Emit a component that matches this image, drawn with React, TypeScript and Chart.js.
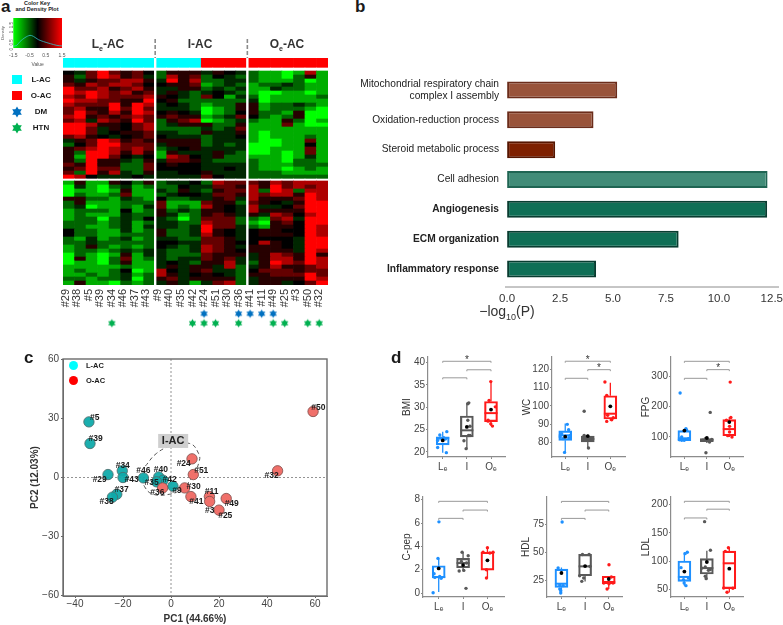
import React, { useEffect, useRef } from "react";
import { Chart, registerables } from "chart.js";

Chart.register(...registerables);
Chart.defaults.font.family = "'Liberation Sans', Arial, sans-serif";

// ---------- panel a: heat map ----------
const samples = ["#29","#38","#5","#39","#34","#46","#37","#43","#9","#40","#35","#42","#24","#51","#30","#36","#41","#11","#49","#25","#3","#50","#32"];
const sampleClass = ["L","L","L","L","L","L","L","L","L","L","L","L","O","O","O","O","O","O","O","O","O","O","O"];
const groupEnds = [7, 15];
const dmSamples = ["#24","#36","#41","#11","#49"];
const htnSamples = ["#34","#42","#24","#51","#36","#49","#25","#50","#32"];
const heatTop = [
[0,-1,2,4,2,1,2,0,-2,1,1,1,-1,1,0,-1,-2,-3,-3,-4,-3,3,-3],
[1,-2,2,4,3,1,2,-1,-2,3,1,2,-2,0,-1,-2,-2,-3,-3,-4,-2,1,-3],
[1,-1,1,2,2,3,3,1,-1,4,1,3,-2,-2,-1,-1,-2,-3,-3,-3,-2,-4,-3],
[2,1,3,2,3,3,2,0,0,1,1,2,-3,-2,-1,-2,-3,-2,-2,-1,-2,-3,-3],
[4,2,2,3,1,2,3,1,-1,-1,1,1,-2,-1,-2,-1,-3,-3,-1,-2,-2,-3,-3],
[4,3,4,3,2,3,1,2,-1,1,-1,-2,-1,0,-1,-2,-3,-4,-4,-3,-3,-4,-3],
[3,2,4,3,2,2,2,3,1,0,-1,-2,2,0,-3,-1,-2,-4,-3,-3,-3,-3,-2],
[4,3,3,2,2,1,1,4,0,1,-2,-2,-2,-2,-2,-2,-1,-4,-3,-3,-3,-3,-3],
[3,2,2,2,4,1,4,3,-1,0,-1,-2,-3,-2,-2,1,1,-3,-2,-2,-1,-2,-3],
[2,3,1,1,4,2,4,2,-1,-1,-1,-2,-4,-3,-2,1,1,-3,-2,-2,-2,-3,-4],
[2,4,2,1,3,1,4,3,0,1,0,-1,-4,-3,-2,0,1,-2,-2,-3,1,-4,-4],
[3,4,1,2,1,2,3,2,1,2,1,1,-3,-2,-1,2,0,-2,-3,-2,1,-4,-4],
[2,3,-1,3,2,1,4,2,-2,1,2,3,-4,-3,-2,-1,-2,-3,-3,1,-2,-4,-3],
[4,4,3,1,1,0,2,3,-2,-1,1,1,1,-2,-2,1,-3,-3,-3,2,-3,-4,-4],
[4,4,2,-1,1,0,2,3,-2,-2,-2,-2,-1,-2,-1,2,-3,-3,-3,-3,-3,-3,-3],
[4,4,2,-1,0,1,1,2,-1,-1,-2,-2,1,-1,-1,1,-3,-4,-3,-3,-3,-3,-3],
[2,3,1,0,-1,0,1,2,0,-1,-1,-1,-2,-1,-1,0,-3,-4,-3,-3,-3,-2,-3],
[-1,1,2,4,3,1,2,1,1,1,1,1,-2,-1,-1,-1,-3,-4,-4,-3,-3,2,-3],
[-2,0,2,4,4,2,2,2,-1,1,1,1,-2,-1,-2,-1,-4,-4,-4,-3,-3,0,-3],
[1,2,3,4,3,2,3,2,-2,-1,0,1,-1,-1,-1,-1,-4,-4,-3,-3,-3,2,-3],
[1,-2,4,4,3,1,3,1,-3,1,-1,-1,-1,1,-1,-2,-4,-4,-3,-4,-3,2,-3],
[1,-3,4,4,2,0,-1,0,-3,3,2,0,-1,1,-2,-2,-3,-3,-3,-4,-3,-1,-3],
[1,-2,4,1,1,-1,-2,1,-1,2,2,1,-1,-2,-2,-2,-2,-3,-3,-4,-2,-2,-3],
[2,1,4,1,1,-2,-2,2,0,1,0,0,-1,-1,-1,-1,-2,-3,-3,-3,-2,-2,-2],
[1,2,4,2,2,-2,-2,2,0,0,0,0,-1,-1,0,-1,-2,-3,-3,-4,-3,-2,-3],
[2,-2,4,1,3,-1,-2,1,-1,-1,0,0,1,-1,-1,-1,-2,-2,-2,-3,-3,-3,-3],
[4,3,0,-1,-1,-1,0,-1,-1,-1,-1,-1,2,0,-1,-1,-2,-2,-2,-2,-2,-2,-2],
];
const heatBottom = [
[-3,1,-3,-3,1,0,-2,1,-2,-1,-1,0,-2,3,2,2,2,1,3,2,3,3,3],
[-4,-1,-3,-4,-2,-1,-3,-2,-2,-2,0,-1,-1,2,2,1,3,1,4,2,3,2,3],
[-4,-3,-3,-4,-3,1,-3,-3,-1,-2,1,-1,-2,1,2,2,3,-2,4,3,-2,3,3],
[-4,-2,-3,-3,-2,2,-3,-3,-2,-1,0,0,-1,2,2,1,3,2,3,3,1,4,3],
[1,1,-2,-2,-3,-1,-2,-3,0,-2,-2,-1,-1,1,2,-1,3,1,1,1,2,4,3],
[-2,1,-3,-3,-3,-2,-2,-2,2,-3,-3,-3,2,1,1,-2,2,1,0,-1,1,4,4],
[-2,-1,-4,-3,-3,-2,-3,-1,2,-3,-2,-3,3,1,0,-1,3,-1,-1,0,2,4,4],
[-3,-2,-2,-2,-3,0,-3,-2,1,-2,-1,-2,1,1,0,-1,3,1,1,1,1,4,4],
[-3,-2,-3,-3,-3,-1,-2,-2,1,-1,-3,-2,1,2,1,-1,1,-1,3,2,0,3,4],
[-3,-2,-2,-4,-2,-1,-2,0,-1,-2,-4,-2,2,2,2,-2,-2,-3,2,3,-1,4,4],
[-2,-2,-2,-3,-2,-1,-3,-2,-1,-1,-2,-2,3,2,2,-2,-3,-4,1,2,0,4,4],
[-2,-2,-3,-3,-2,-1,-3,-1,-1,-1,-2,-1,4,2,2,-1,-2,-3,1,1,0,4,3],
[0,-2,-2,-3,-3,-1,-3,-2,1,-2,-2,-1,4,1,0,-1,0,1,1,0,0,4,3],
[0,-2,-2,-3,-3,-2,-2,-2,1,-2,-2,-1,3,1,0,-1,0,1,1,1,0,4,3],
[-2,-3,-1,-3,-2,-1,-3,-2,-1,-1,-2,-2,2,2,1,-1,0,0,0,0,-1,4,4],
[-2,-2,-1,-2,-2,-2,-2,-2,0,0,-1,-1,2,2,1,0,0,3,1,0,-1,4,4],
[-3,-2,1,-2,-3,-2,-3,-2,0,-1,-2,-1,3,2,1,-1,1,1,1,0,-1,4,4],
[-3,-2,-2,-3,-2,-1,-2,-1,-1,-2,-2,-1,3,2,1,0,1,1,1,1,-1,4,3],
[-4,-2,-3,-4,-3,1,-3,-1,-1,-2,-2,-2,2,1,1,1,-1,1,3,2,1,4,1],
[-4,1,-3,-4,-2,2,-3,-2,-1,-2,-1,-1,2,1,2,-1,-1,1,3,3,1,4,3],
[-4,-3,-3,-4,-2,1,-3,-3,-1,0,-1,-2,1,1,3,-1,-2,1,4,3,2,4,3],
[-3,-3,-3,-3,-3,-2,-3,-3,-1,1,-1,1,1,-1,3,-2,-1,1,3,1,1,2,3],
[-3,-2,-3,-3,-2,0,-4,-3,3,0,-1,1,2,-1,-1,-2,0,2,2,2,1,2,2],
[-3,-3,-2,-3,-2,-1,-3,-2,3,1,-1,0,1,0,-1,-2,1,1,2,2,2,4,2],
[-2,-2,-3,-2,-2,-1,-4,-2,1,2,-1,1,1,1,1,-2,-1,1,1,1,1,4,3],
[-3,1,-3,-3,-4,-2,-3,-2,-1,1,-1,-3,-1,2,3,-2,-1,1,1,-1,0,2,4],
];
const densityX = [-1.5,-1.29,-1.09,-0.78,-0.47,-0.26,0.05,0.36,0.78,1.19,1.5];
const densityY = [0.1,0.15,0.37,0.6,0.73,0.67,0.48,0.37,0.25,0.15,0.12];
const keyTicks = [-1.5,-1,-0.5,0,0.5,1,1.5];
const keyLabelled = [-1.5,-0.5,0.5,1.5];
const keyYTicks = [0,0.5,1,1.5];

// ---------- panel b: enrichment ----------
const termLabels: (string | string[])[] = [["Mitochondrial respiratory chain","complex I assembly"],"Oxidation-reduction process","Steroid metabolic process","Cell adhesion","Angiogenesis","ECM organization","Inflammatory response"];
const termValues = [5.2,4.08,2.27,12.3,12.28,8.1,4.2];
const termFill = ["#99533a","#99533a","#7e2000","#418c78","#0f6f56","#0f6f56","#0f6f56"];
const termEdge = ["#6b2c1a","#6b2c1a","#551500","#1f6553","#083c30","#083c30","#083c30"];
const termBold = [false,false,false,false,true,true,true];
const enrichTicks = [0,2.5,5,7.5,10,12.5];

// ---------- panel c: PCA ----------
const lacNames = ["#5","#39","#29","#34","#43","#46","#40","#37","#38","#42","#9","#35"];
const lacX = [-34.2,-33.75,-26.25,-20.3,-20,-11.5,-5.1,-22.6,-24.4,-3.3,0.8,-6];
const lacY = [28.3,17.3,1.5,3.4,0,-0.2,0.3,-8.5,-10,-1.4,-4.4,-2.2];
const lacLabelX = [-31.8,-31.4,-29.7,-20.1,-16.4,-11.5,-4.2,-20.6,-26.8,-0.6,2.5,-8.1];
const lacLabelY = [30.5,19.7,-1,6.1,-1.2,3.7,4.1,-6.1,-12.4,-1,-6.9,-2.7];
const oacNames = ["#24","#51","#30","#36","#41","#11","#49","#25","#3","#50","#32"];
const oacX = [8.75,9.3,5.7,-3.5,8.3,16,23,20,16.1,59.2,44.4];
const oacY = [9.5,1.5,-5.3,-5.3,-9.7,-9.7,-10.7,-16.6,-12.2,33.6,3.4];
const oacLabelX = [5.3,12.6,9.4,-5.7,10.6,16.9,25.3,22.6,16.1,61.4,41.9];
const oacLabelY = [6.9,3.7,-4.7,-7.6,-12.2,-7.1,-13.4,-19.3,-17.1,35.4,0.8];
const ringX = [-10.7,-6.1,0,7.8,11.5,11.7,8.5,3.6,-0.5,-7.5,-11,-11.7];
const ringY = [5.8,12.2,16,17.3,12.2,8,-0.5,-6.4,-8.5,-8.5,-4.7,-0.5];
const pcaXTicks = [-40,-20,0,20,40,60];
const pcaYTicks = [-60,-30,0,30,60];

// ---------- panel d: box plots ----------
const groupNames = ["Lₑ","I","Oₑ"];
const groupColors = ["#1e90ff","#595959","#ff1a1a"];

const bmiLow = [19.85,20.75,25.8]; const bmiQ1 = [21.6,23.4,26.8]; const bmiMed = [23.1,24.85,28.7]; const bmiQ3 = [23.4,28.05,31.3]; const bmiHigh = [24.55,31,35.75]; const bmiMean = [22.6,25.6,29.5];
const bmiPoints = [[[1.17,24.55],[0.88,23.8],[0.79,21],[1.15,19.85],[1.04,23.2],[0.9,23.1],[1.11,22.9],[0.79,22.6]],[[2.08,31],[2.04,30.8],[2.04,27.1],[1.88,22.5],[1.97,20.75],[2.13,25.75],[2.13,23.7],[2.07,23.7]],[[2.99,35.75],[2.92,31.55],[3.18,30.1],[2.88,27.1],[2.99,26.3],[3.06,25.8],[2.88,26.9]]];
const bmiTicks = [20,25,30,35,40];
const bmiBrackets = [[1,3,40.3,1],[2,3,38.4,0],[1,2,36.6,0]];

const wcLow = [74.7,77,92]; const wcQ1 = [81.3,80.4,92.9]; const wcMed = [84,82,95.8]; const wcQ3 = [86.4,83.6,105.6]; const wcHigh = [90.4,84.5,112.7]; const wcMean = [83.3,83.6,99.8];
const wcPoints = [[[1.09,90],[1.15,87.1],[0.97,74.7],[1.22,84],[0.78,83.1],[0.9,82.2],[1.16,82.7],[0.84,84.9]],[[1.84,97.1],[2.03,77.1],[1.84,84],[1.93,83.1],[2.1,81.3],[2.07,81.6],[1.88,81.3]],[[2.76,113.1],[2.84,105.8],[2.84,91.6],[3.06,92.5],[3.13,93.6],[2.88,94.9]]];
const wcTicks = [80,90,100,110,120];
const wcBrackets = [[1,3,124.4,1],[2,3,119.8,1],[1,2,115.1,0]];

const fpgLow = [86,80,100]; const fpgQ1 = [88,84.6,104]; const fpgMed = [95.6,89,126]; const fpgQ3 = [121,94.5,157]; const fpgHigh = [127,98,166]; const fpgMean = [121,96.7,149];
const fpgPoints = [[[0.81,245],[0.88,89],[0.99,89],[1.18,94.5],[1.1,122],[1.07,127],[0.88,100],[0.78,91]],[[2.15,181],[1.96,48],[1.81,89],[1.93,94.5],[2.07,89],[2.22,92],[2.12,83.5]],[[3.04,281],[3.01,135],[3.01,116.5],[3.07,164],[2.87,155],[2.93,104.4],[3.12,100]]];
const fpgTicks = [100,200,300];
const fpgBrackets = [[1,3,349.5,0],[2,3,322,1],[1,2,293.4,0]];

const cpepLow = [0.09,1.94,1.29]; const cpepQ1 = [1.29,2.17,1.97]; const cpepMed = [1.37,2.57,3.43]; const cpepQ3 = [2.34,2.97,3.51]; const cpepHigh = [2.94,3.49,3.86]; const cpepMean = [2.11,2.4,2.8];
const cpepPoints = [[[1.01,6.1],[0.97,2.97],[0.77,0.03],[0.81,1.66],[1.1,1.26],[0.84,1.34],[1.04,1.43]],[[2.12,0.4],[1.96,3.49],[2.21,3.2],[1.84,1.89],[2.03,1.94],[1.93,2.71],[2.14,2.57]],[[3,3.89],[2.96,1.29],[2.96,2],[2.82,3.49],[3.23,3.49],[3.1,3.43]]];
const cpepTicks = [0,2,4,6,8];
const cpepBrackets = [[1,3,7.86,0],[2,3,7.11,0],[1,2,6.4,0]];

const hdlLow = [13.8,24,17.3]; const hdlQ1 = [18.8,29.1,22]; const hdlMed = [22,37.4,23.5]; const hdlQ3 = [35,48,28.6]; const hdlHigh = [36.5,48,28.6]; const hdlMean = [31.5,37.7,26.2];
const hdlPoints = [[[1.03,76.8],[0.86,36],[0.93,17.3],[0.97,13.8],[0.97,15.8],[0.93,20.9],[1.07,20.3]],[[1.89,48],[2.17,48],[1.86,24.1],[1.94,27.1],[2.2,37.4],[1.77,29.1]],[[3.01,38.9],[2.93,17.3],[3.01,22],[3.18,22.6],[2.79,22.6],[3.11,28]]];
const hdlTicks = [25,50,75];
const hdlBrackets = [[1,3,95.1,0],[2,3,87.4,0],[1,2,80,0]];

const ldlLow = [57,69.4,45]; const ldlQ1 = [64.7,77.6,51.8]; const ldlMed = [72.4,88,96.5]; const ldlQ3 = [100.6,104.7,118]; const ldlHigh = [115.9,118.8,124]; const ldlMean = [81.8,98.8,87];
const ldlPoints = [[[1.13,115.9],[1.03,113.5],[0.85,88.8],[1.07,57],[0.99,61.8],[0.96,67.6],[1.18,70.6]],[[1.9,170],[2.16,119.4],[1.97,69.4],[2.07,84],[1.93,90],[1.78,88],[1.93,73.5],[2.15,85.3]],[[2.96,124],[2.82,117.6],[2.9,45.3],[3.16,52.4],[2.75,53]]];
const ldlTicks = [50,100,150,200];
const ldlBrackets = [[1,3,205.9,0],[2,3,192,0],[1,2,176.5,0]];

// ---------- helpers ----------
type Rect = { L: number; R: number; T: number; B: number; ml: number; mr: number; mt: number; mb: number };
const frame = (r: Rect) => ({ left: r.L - r.ml, top: r.T - r.mt, width: r.R - r.L + r.ml + r.mr, height: r.B - r.T + r.mt + r.mb });

const fitX = (h: number, ticks?: number[]) => ({
  afterFit: (s: any) => { s.height = h; s.paddingLeft = 0; s.paddingRight = 0; s.paddingTop = 0; s.paddingBottom = 0; },
  ...(ticks ? { afterBuildTicks: (s: any) => { s.ticks = ticks.map((value) => ({ value })); } } : {}),
});
const fitY = (w: number, ticks?: number[]) => ({
  afterFit: (s: any) => { s.width = w; s.paddingLeft = 0; s.paddingRight = 0; s.paddingTop = 0; s.paddingBottom = 0; },
  ...(ticks ? { afterBuildTicks: (s: any) => { s.ticks = ticks.map((value) => ({ value })); } } : {}),
});
const baseOptions = (r: Rect, left = 0) => ({
  responsive: false,
  animation: false as const,
  events: [] as any[],
  layout: { autoPadding: false, padding: { left, top: r.mt, right: r.mr, bottom: 0 } },
  plugins: { legend: { display: false }, tooltip: { enabled: false } },
});
const heatColor = (v: number) => {
  const c = Math.round(Math.pow(Math.abs(v) / 4, 1.35) * 255);
  return v < 0 ? `rgb(0,${c},0)` : `rgb(${c},0,0)`;
};
const starImage = (color: string, radius: number) => {
  const cv = document.createElement("canvas");
  const size = Math.ceil(radius * 2 + 2);
  cv.width = size; cv.height = size;
  const g = cv.getContext("2d")!;
  g.fillStyle = color;
  const c = size / 2;
  [0, Math.PI].forEach((off) => {
    g.beginPath();
    for (let i = 0; i < 3; i++) {
      const a = off + -Math.PI / 2 + (i * 2 * Math.PI) / 3;
      const x = c + radius * Math.cos(a), y = c + radius * Math.sin(a);
      i ? g.lineTo(x, y) : g.moveTo(x, y);
    }
    g.closePath(); g.fill();
  });
  return cv;
};
const minus = (v: number) => (v < 0 ? "\u2212" + Math.abs(v) : String(v));

// ---------- chart configs ----------
const keyRect: Rect = { L: 13.3, R: 61.7, T: 17.7, B: 47.7, ml: 13.3, mr: 6, mt: 1, mb: 20 };
const heatRect: Rect = { L: 63, R: 328, T: 58, B: 285, ml: 8, mr: 2, mt: 22, mb: 30 };
const starRect: Rect = { L: 60, R: 325, T: 309.3, B: 328, ml: 0, mr: 2, mt: 0, mb: 0 };
const enrichRect: Rect = { L: 505, R: 779, T: 74.65, B: 283.35, ml: 170, mr: 4, mt: 2, mb: 26 };
const pcaRect: Rect = { L: 63.3, R: 327.3, T: 359, B: 596, ml: 34, mr: 4, mt: 8, mb: 29 };

function keyConfig(): any {
  return {
    type: "line",
    data: { datasets: [{ data: densityX.map((x, i) => ({ x, y: densityY[i] })), borderColor: "#35c0c8", borderWidth: 0.8, pointRadius: 0, tension: 0.3 }] },
    options: {
      ...baseOptions(keyRect),
      scales: {
        x: { type: "linear", min: -1.5, max: 1.5, ...fitX(keyRect.mb, keyTicks), grid: { display: false, tickLength: 2, tickColor: "#666" }, border: { display: false },
          ticks: { font: { size: 5 }, color: "#555", padding: 3, autoSkip: false, maxRotation: 0, callback: (v: number) => (keyLabelled.includes(v) ? String(v) : "") },
          title: { display: true, text: "Value", font: { size: 5 }, color: "#555", padding: 0 } },
        y: { type: "linear", min: 0, max: 1.73, ...fitY(keyRect.ml, keyYTicks), grid: { display: false, tickLength: 2, tickColor: "#666" }, border: { display: false },
          ticks: { font: { size: 4.5 }, color: "#555", padding: 0, minRotation: 90, maxRotation: 90, callback: (v: number) => String(v) },
          title: { display: true, text: "Density", font: { size: 4 }, color: "#555", padding: 0 } },
      },
    },
    plugins: [{
      id: "keyGradient",
      beforeDatasetsDraw(ch: any) {
        const { ctx, chartArea: a } = ch;
        const g = ctx.createLinearGradient(a.left, 0, a.right, 0);
        g.addColorStop(0, "#00ff00"); g.addColorStop(0.5, "#000000"); g.addColorStop(1, "#ff0000");
        ctx.save(); ctx.fillStyle = g; ctx.fillRect(a.left, a.top, a.right - a.left, a.bottom - a.top); ctx.restore();
      },
    }],
  };
}

function heatConfig(): any {
  const rowH = 4;
  const blocks = (rows: number[][]) => rows.map((row) => ({ data: row.map(() => rowH), backgroundColor: row.map(heatColor) }));
  const datasets = [
    ...blocks([...heatBottom].reverse()),
    { data: samples.map(() => 2), backgroundColor: "#ffffff" },
    ...blocks([...heatTop].reverse()),
    { data: samples.map(() => 3), backgroundColor: "#ffffff" },
    { data: samples.map(() => 10), backgroundColor: sampleClass.map((c) => (c === "L" ? "#00ffff" : "#ff0000")) },
  ].map((d) => ({ ...d, borderWidth: 0, categoryPercentage: 1, barPercentage: 1 }));
  return {
    type: "bar",
    data: { labels: samples, datasets },
    options: {
      ...baseOptions(heatRect, heatRect.ml),
      scales: {
        x: { stacked: true, ...fitX(heatRect.mb), grid: { display: false, drawTicks: false }, border: { display: false },
          ticks: { autoSkip: false, minRotation: 90, maxRotation: 90, padding: 4, labelOffset: -3, font: { size: 11 }, color: "#333" } },
        y: { stacked: true, display: false, min: 0, max: 227 },
      },
    },
    plugins: [{
      id: "groupSeparators",
      afterDatasetsDraw(ch: any) {
        const { ctx, chartArea: a, scales } = ch;
        ctx.save();
        groupEnds.forEach((i) => {
          const x = (scales.x.getPixelForValue(i) + scales.x.getPixelForValue(i + 1)) / 2;
          ctx.strokeStyle = "#ffffff"; ctx.lineWidth = 2.4; ctx.setLineDash([]);
          ctx.beginPath(); ctx.moveTo(x, a.top); ctx.lineTo(x, a.bottom); ctx.stroke();
          ctx.strokeStyle = "#8a8a8a"; ctx.lineWidth = 1.6; ctx.setLineDash([4, 2]);
          ctx.beginPath(); ctx.moveTo(x, a.top - 19); ctx.lineTo(x, a.top); ctx.stroke();
        });
        ctx.restore();
      },
    }],
  };
}

function starConfig(): any {
  return {
    type: "line",
    data: { datasets: [
      { data: dmSamples.map((x) => ({ x, y: "DM" })), showLine: false, clip: false, pointStyle: starImage("#0070c0", 4.2) },
      { data: htnSamples.map((x) => ({ x, y: "HTN" })), showLine: false, clip: false, pointStyle: starImage("#00b050", 4.2) },
    ] },
    options: {
      ...baseOptions(starRect),
      scales: {
        x: { type: "category", labels: samples, offset: true, display: false },
        y: { type: "category", labels: ["DM", "HTN"], offset: true, display: false },
      },
    },
  };
}

function enrichConfig(): any {
  return {
    type: "bar",
    data: { labels: termLabels, datasets: [{ data: termValues, backgroundColor: termFill, borderColor: termEdge, borderWidth: 2, borderSkipped: false, categoryPercentage: 1, barPercentage: 0.57 }] },
    options: {
      ...baseOptions(enrichRect),
      indexAxis: "y",
      scales: {
        x: { type: "linear", min: -0.1, max: 12.84, offset: false, ...fitX(enrichRect.mb, enrichTicks), grid: { display: false, drawTicks: false }, border: { display: false },
          ticks: { font: { size: 11.5 }, color: "#333", padding: 8, maxRotation: 0, callback: (v: number) => v.toFixed(1) } },
        y: { type: "category", ...fitY(enrichRect.ml), grid: { display: false, drawTicks: false }, border: { display: false },
          ticks: { color: "#222", padding: 6, autoSkip: false, font: (c: any) => ({ size: 10.2, weight: termBold[c.index] ? "bold" : "normal" }) } },
      },
    },
    plugins: [{
      id: "axisLine",
      afterDraw(ch: any) {
        const { ctx, chartArea: a } = ch;
        ctx.save(); ctx.strokeStyle = "#8c8c8c"; ctx.lineWidth = 1;
        ctx.beginPath(); ctx.moveTo(a.left, a.bottom + 3); ctx.lineTo(a.right, a.bottom + 3); ctx.stroke(); ctx.restore();
      },
    }],
  };
}

function pcaConfig(): any {
  const labelSets = [
    { names: lacNames, xs: lacLabelX, ys: lacLabelY },
    { names: oacNames, xs: oacLabelX, ys: oacLabelY },
  ];
  const axis = { grid: { drawOnChartArea: false, tickLength: 2, tickColor: "#666" }, border: { color: "#6b6b6b", width: 1 } };
  return {
    type: "scatter",
    data: { datasets: [
      { data: ringX.map((x, i) => ({ x, y: ringY[i] })), showLine: true, borderColor: "#555", borderWidth: 1, borderDash: [4, 3], tension: 0.45, pointRadius: 0, order: 3 },
      { data: lacX.map((x, i) => ({ x, y: lacY[i] })), backgroundColor: "rgba(15,170,170,0.95)", borderColor: "#4d6a6a", borderWidth: 0.8, pointRadius: 5.2, order: 2 },
      { data: oacX.map((x, i) => ({ x, y: oacY[i] })), backgroundColor: "#f0706a", borderColor: "#7a4a48", borderWidth: 0.8, pointRadius: 5.2, order: 1 },
    ] },
    options: {
      ...baseOptions(pcaRect),
      scales: {
        x: { type: "linear", min: -45, max: 65, ...fitX(pcaRect.mb, pcaXTicks), ...axis,
          ticks: { font: { size: 10 }, color: "#444", padding: 0, maxRotation: 0, callback: minus },
          title: { display: true, text: "PC1 (44.66%)", font: { size: 10, weight: "bold" }, color: "#333", padding: 0 } },
        y: { type: "linear", min: -60.3, max: 60.3, ...fitY(pcaRect.ml, pcaYTicks), ...axis,
          ticks: { font: { size: 10 }, color: "#444", padding: 2, callback: minus },
          title: { display: true, text: "PC2 (12.03%)", font: { size: 10, weight: "bold" }, color: "#333", padding: 0 } },
      },
    },
    plugins: [{
      id: "pcaExtras",
      beforeDatasetsDraw(ch: any) {
        const { ctx, chartArea: a, scales } = ch;
        ctx.save(); ctx.strokeStyle = "#777"; ctx.lineWidth = 0.8; ctx.setLineDash([2, 2]);
        const x0 = scales.x.getPixelForValue(0), y0 = scales.y.getPixelForValue(0);
        ctx.beginPath(); ctx.moveTo(x0, a.top); ctx.lineTo(x0, a.bottom); ctx.moveTo(a.left, y0); ctx.lineTo(a.right, y0); ctx.stroke();
        ctx.restore();
      },
      afterDatasetsDraw(ch: any) {
        const { ctx, chartArea: a, scales } = ch;
        ctx.save();
        ctx.strokeStyle = "#6b6b6b"; ctx.lineWidth = 1.4;
        ctx.strokeRect(a.left, a.top, a.right - a.left, a.bottom - a.top);
        ctx.font = "bold 8.5px 'Liberation Sans'"; ctx.fillStyle = "#1a1a1a"; ctx.textAlign = "center"; ctx.textBaseline = "middle";
        labelSets.forEach((set) => set.names.forEach((n, i) => ctx.fillText(n, scales.x.getPixelForValue(set.xs[i]), scales.y.getPixelForValue(set.ys[i]))));
        const bx = scales.x.getPixelForValue(0.9), by = scales.y.getPixelForValue(18.6);
        ctx.fillStyle = "#cfcfcf"; ctx.fillRect(bx - 15, by - 7, 30, 14);
        ctx.fillStyle = "#222"; ctx.font = "bold 11px 'Liberation Sans'"; ctx.fillText("I-AC", bx, by);
        ctx.restore();
      },
    }],
  };
}

type BoxSpec = { rect: Rect; xMin: number; xMax: number; yMin: number; yMax: number; title: string; ticks: number[]; low: number[]; q1: number[]; med: number[]; q3: number[]; high: number[]; mean: number[]; points: number[][][]; brackets: number[][] };

const rowOne = { T: 356.7, B: 456.7, mt: 6, mr: 6, mb: 20 };
const rowTwo = { T: 497.3, B: 597.3, mt: 6, mr: 6, mb: 20 };
const boxSpecs: BoxSpec[] = [
  { rect: { ...rowOne, L: 427.7, R: 504.3, ml: 27 }, xMin: 0.39, xMax: 3.58, yMin: 18.88, yMax: 41.26, title: "BMI", ticks: bmiTicks, low: bmiLow, q1: bmiQ1, med: bmiMed, q3: bmiQ3, high: bmiHigh, mean: bmiMean, points: bmiPoints, brackets: bmiBrackets },
  { rect: { ...rowOne, L: 551.7, R: 625, ml: 31 }, xMin: 0.413, xMax: 3.65, yMin: 72.2, yMax: 126.7, title: "WC", ticks: wcTicks, low: wcLow, q1: wcQ1, med: wcMed, q3: wcQ3, high: wcHigh, mean: wcMean, points: wcPoints, brackets: wcBrackets },
  { rect: { ...rowOne, L: 671, R: 742.7, ml: 31 }, xMin: 0.404, xMax: 3.61, yMin: 34, yMax: 363.7, title: "FPG", ticks: fpgTicks, low: fpgLow, q1: fpgQ1, med: fpgMed, q3: fpgQ3, high: fpgHigh, mean: fpgMean, points: fpgPoints, brackets: fpgBrackets },
  { rect: { ...rowTwo, L: 423.3, R: 504.3, ml: 22 }, xMin: 0.355, xMax: 3.68, yMin: -0.34, yMax: 8.23, title: "C-pep", ticks: cpepTicks, low: cpepLow, q1: cpepQ1, med: cpepMed, q3: cpepQ3, high: cpepHigh, mean: cpepMean, points: cpepPoints, brackets: cpepBrackets },
  { rect: { ...rowTwo, L: 547.3, R: 622.3, ml: 27 }, xMin: 0.39, xMax: 3.56, yMin: 10.2, yMax: 99, title: "HDL", ticks: hdlTicks, low: hdlLow, q1: hdlQ1, med: hdlMed, q3: hdlQ3, high: hdlHigh, mean: hdlMean, points: hdlPoints, brackets: hdlBrackets },
  { rect: { ...rowTwo, L: 671, R: 742.7, ml: 31 }, xMin: 0.404, xMax: 3.61, yMin: 37, yMax: 213.5, title: "LDL", ticks: ldlTicks, low: ldlLow, q1: ldlQ1, med: ldlMed, q3: ldlQ3, high: ldlHigh, mean: ldlMean, points: ldlPoints, brackets: ldlBrackets },
];

function boxConfig(s: BoxSpec): any {
  const axisCommon = { grid: { drawOnChartArea: false, tickLength: 2, tickColor: "#888" }, border: { color: "#8c8c8c", width: 1.2 } };
  return {
    type: "bar",
    data: { datasets: [
      { type: "bar", data: s.q1.map((q, i) => ({ x: i + 1, y: [q, s.q3[i]] })), backgroundColor: "rgba(255,255,255,0)", borderColor: groupColors, borderWidth: 1.5, borderSkipped: false, barThickness: 13, order: 5 },
      ...s.points.map((pts, g) => ({ type: "scatter", data: pts.map(([x, y]) => ({ x, y })), backgroundColor: groupColors[g], borderWidth: 0, pointRadius: 1.7, order: 3 })),
      { type: "scatter", data: s.mean.map((y, i) => ({ x: i + 1, y })), backgroundColor: "#000", borderWidth: 0, pointRadius: 1.9, order: 1 },
    ] },
    options: {
      ...baseOptions(s.rect),
      scales: {
        x: { type: "linear", offset: false, min: s.xMin, max: s.xMax, ...fitX(s.rect.mb, [1, 2, 3]), ...axisCommon, grid: { ...axisCommon.grid, offset: false },
          ticks: { font: { size: 10 }, color: "#444", padding: 2, maxRotation: 0, autoSkip: false, callback: (v: number) => groupNames[v - 1] } },
        y: { type: "linear", min: s.yMin, max: s.yMax, ...fitY(s.rect.ml, s.ticks), ...axisCommon,
          ticks: { font: { size: 10 }, color: "#444", padding: 1, callback: (v: number) => String(v) },
          title: { display: true, text: s.title, font: { size: 10 }, color: "#333", padding: 0 } },
      },
    },
    plugins: [{
      id: "boxParts",
      beforeDatasetsDraw(ch: any) {
        const { ctx, scales } = ch;
        ctx.save();
        s.q1.forEach((_, i) => {
          const x = scales.x.getPixelForValue(i + 1);
          ctx.strokeStyle = groupColors[i]; ctx.lineWidth = 1.3;
          ctx.beginPath();
          ctx.moveTo(x, scales.y.getPixelForValue(s.low[i])); ctx.lineTo(x, scales.y.getPixelForValue(s.q1[i]));
          ctx.moveTo(x, scales.y.getPixelForValue(s.q3[i])); ctx.lineTo(x, scales.y.getPixelForValue(s.high[i]));
          ctx.stroke();
          const m = scales.y.getPixelForValue(s.med[i]);
          ctx.lineWidth = 2;
          ctx.beginPath(); ctx.moveTo(x - 6.5, m); ctx.lineTo(x + 6.5, m); ctx.stroke();
        });
        ctx.restore();
      },
      afterDatasetsDraw(ch: any) {
        const { ctx, scales } = ch;
        ctx.save();
        s.brackets.forEach(([a, b, v, star]) => {
          const x1 = scales.x.getPixelForValue(a), x2 = scales.x.getPixelForValue(b), y = scales.y.getPixelForValue(v);
          ctx.strokeStyle = "#999999"; ctx.lineWidth = 1;
          ctx.beginPath(); ctx.moveTo(x1, y + 1.5); ctx.lineTo(x1, y); ctx.lineTo(x2, y); ctx.lineTo(x2, y + 1.5); ctx.stroke();
          if (star) {
            ctx.fillStyle = "#333"; ctx.font = "10px 'Liberation Sans'"; ctx.textAlign = "center"; ctx.textBaseline = "middle";
            ctx.fillText("*", (x1 + x2) / 2, y - 1);
          }
        });
        ctx.restore();
      },
    }],
  };
}

const configs: { rect: Rect; make: () => any }[] = [
  { rect: keyRect, make: keyConfig },
  { rect: heatRect, make: heatConfig },
  { rect: starRect, make: starConfig },
  { rect: enrichRect, make: enrichConfig },
  { rect: pcaRect, make: pcaConfig },
  ...boxSpecs.map((s) => ({ rect: s.rect, make: () => boxConfig(s) })),
];

// ---------- page text ----------
const Txt = ({ x, y, size, bold, color, children, align }: any) => (
  <div style={{ position: "absolute", left: x, top: y, fontSize: size, fontWeight: bold ? "bold" : "normal", color: color || "#1a1a1a", lineHeight: 1, whiteSpace: "nowrap",
    transform: align === "left" ? "translate(0,-50%)" : "translate(-50%,-50%)" }}>{children}</div>
);
const Star = ({ x, y, color }: any) => (
  <svg width={12} height={12} style={{ position: "absolute", left: x - 6, top: y - 6 }} viewBox="-6 -6 12 12">
    <polygon points="0,-5.5 4.8,2.75 -4.8,2.75" fill={color} />
    <polygon points="0,5.5 4.8,-2.75 -4.8,-2.75" fill={color} />
  </svg>
);
const Swatch = ({ x, y, w, h, color, round }: any) => (
  <div style={{ position: "absolute", left: x, top: y, width: w, height: h, background: color, borderRadius: round ? "50%" : 0 }} />
);

export default function App() {
  const refs = useRef<(HTMLCanvasElement | null)[]>([]);
  useEffect(() => {
    const charts = configs.map((c, i) => new Chart(refs.current[i]!, c.make()));
    return () => charts.forEach((c) => c.destroy());
  }, []);
  return (
    <div style={{ position: "absolute", left: 0, top: 0, width: 783, height: 625, overflow: "hidden", background: "#fff", fontFamily: "'Liberation Sans', Arial, sans-serif" }}>
      {configs.map((c, i) => {
        const f = frame(c.rect);
        return <canvas key={i} ref={(el) => { refs.current[i] = el; }} width={Math.round(f.width)} height={Math.round(f.height)} style={{ position: "absolute", left: f.left, top: f.top, width: Math.round(f.width), height: Math.round(f.height) }} />;
      })}
      <Txt x={1} y={6} size={17} bold align="left">a</Txt>
      <Txt x={355} y={6} size={17} bold align="left">b</Txt>
      <Txt x={24} y={357} size={17} bold align="left">c</Txt>
      <Txt x={391} y={357} size={17} bold align="left">d</Txt>

      <Txt x={37} y={3.5} size={5.5} bold>Color Key</Txt>
      <Txt x={37} y={10} size={5.5} bold>and Density Plot</Txt>

      <Swatch x={12} y={75} w={10} h={9} color="#00ffff" />
      <Swatch x={12} y={91} w={10} h={9} color="#ff0000" />
      <Star x={17} y={112} color="#0070c0" />
      <Star x={17} y={127.5} color="#00b050" />
      <Txt x={41} y={79.5} size={8} bold>L-AC</Txt>
      <Txt x={41} y={96} size={8} bold>O-AC</Txt>
      <Txt x={41} y={111.5} size={8} bold>DM</Txt>
      <Txt x={41} y={128} size={8} bold>HTN</Txt>

      <Txt x={108} y={45} size={12} bold color="#333"><span>L<sub style={{ fontSize: 7 }}>e</sub>-AC</span></Txt>
      <Txt x={200} y={44} size={12} bold color="#333">I-AC</Txt>
      <Txt x={287} y={45} size={12} bold color="#333"><span>O<sub style={{ fontSize: 7 }}>e</sub>-AC</span></Txt>

      <Txt x={507} y={313} size={14} color="#333"><span>{"\u2212"}log<sub style={{ fontSize: 9 }}>10</sub>(P)</span></Txt>

      <Swatch x={69} y={360.5} w={9} h={9} color="#00ffff" round />
      <Swatch x={69} y={375.5} w={9} h={9} color="#ff0000" round />
      <Txt x={86} y={365.5} size={7.5} bold align="left">L-AC</Txt>
      <Txt x={86} y={380.5} size={7.5} bold align="left">O-AC</Txt>
    </div>
  );
}
